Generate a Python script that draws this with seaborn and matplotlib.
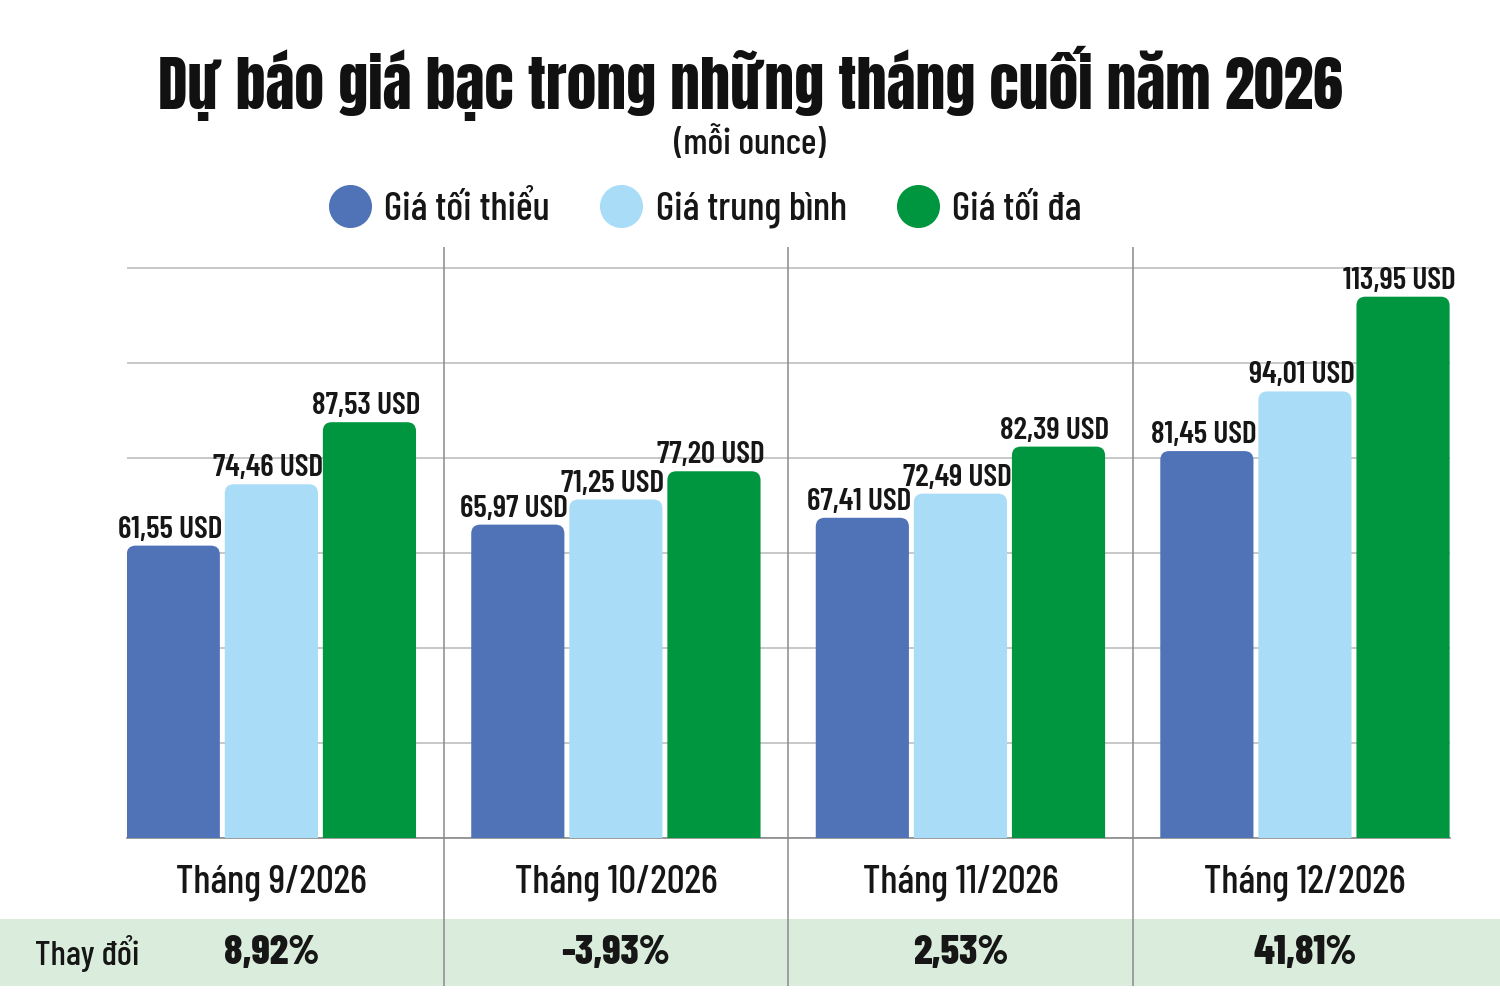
import matplotlib
matplotlib.use("Agg")
import matplotlib.pyplot as plt
import seaborn as sns
import pandas as pd
from matplotlib import font_manager as fm
from matplotlib.patches import FancyBboxPatch, Rectangle
from matplotlib.lines import Line2D
from matplotlib import transforms

# ---- data ----
months = ["Tháng 9/2026", "Tháng 10/2026", "Tháng 11/2026", "Tháng 12/2026"]
series_names = ["Giá tối thiểu", "Giá trung bình", "Giá tối đa"]
price_min = [61.55, 65.97, 67.41, 81.45]
price_avg = [74.46, 71.25, 72.49, 94.01]
price_max = [87.53, 77.20, 82.39, 113.95]
changes = ["8,92%", "-3,93%", "2,53%", "41,81%"]
title = "Dự báo giá bạc trong những tháng cuối năm 2026"
subtitle = "(mỗi ounce)"
change_label = "Thay đổi"
colors = ["#5073B8", "#A8DCF7", "#00953F"]

rows = []
for s, vals in zip(series_names, [price_min, price_avg, price_max]):
    for m, v in zip(months, vals):
        rows.append({"month": m, "series": s, "value": v})
df = pd.DataFrame(rows)

sns.set_theme(style="white")


def has_font(name):
    try:
        fm.findfont(fm.FontProperties(family=name), fallback_to_default=False)
        return True
    except Exception:
        return False


def pick(cands):
    for c in cands:
        if has_font(c):
            return c
    return "DejaVu Sans"


FAM = pick(["Barlow Condensed", "Roboto Condensed", "Liberation Sans Narrow"])
HEAVY = pick(["Anton", "Oswald", "Barlow Condensed"])
plt.rcParams["font.family"] = [FAM, "DejaVu Sans"]
TXT = "#161616"

W, H = 1500, 1005
fig = plt.figure(figsize=(15, 10.05), dpi=100)
ax = fig.add_axes([127 / W, (H - 838) / H, (1450 - 127) / W, (838 - 248) / H])
ax.set_zorder(2)

sns.barplot(data=df, x="month", y="value", hue="series", order=months,
            hue_order=series_names, palette=colors, width=0.854, gap=0.05,
            saturation=1, legend=False, ax=ax, errorbar=None, zorder=3)

ax.set_xlim(-0.419, 3.421)
ax.set_ylim(0, 124.2)

# rounded bar tops replacing the plain rectangles
px_x = (1450 - 127) / (3.421 + 0.419)
px_y = (838 - 248) / 124.2
r_px = 9
bars = list(ax.patches)
for p in bars:
    x, y = p.get_x(), p.get_y()
    w, h = p.get_width(), p.get_height()
    fc = p.get_facecolor()
    p.set_visible(False)
    rr = r_px / px_x
    aspect = (r_px / px_y) / rr
    fb = FancyBboxPatch((x, y - 10), w, h + 10,
                        boxstyle=f"round,pad=0,rounding_size={rr}",
                        mutation_aspect=aspect, facecolor=fc, edgecolor="none",
                        zorder=3)
    ax.add_patch(fb)
    ax.text(x + w / 2 - 0.01, h + 8 / px_y, f"{h:.2f}".replace(".", ",") + " USD",
            ha="center", va="baseline", fontsize=22.5, fontweight="semibold",
            color=TXT, zorder=5)

# grid
ax.set_yticks(range(0, 121, 20))
ax.yaxis.grid(True, color="#c8c8c8", linewidth=1.4, zorder=0)
ax.set_yticklabels([])
ax.tick_params(axis="y", length=0)
for s in ["top", "right", "left"]:
    ax.spines[s].set_visible(False)
ax.spines["bottom"].set_color("#8a8a8a")
ax.spines["bottom"].set_linewidth(1.2)
ax.set_xlabel("")
ax.set_ylabel("")
ax.tick_params(axis="x", length=0, pad=19, labelsize=28.5, labelcolor=TXT)
for t in ax.get_xticklabels():
    t.set_fontweight("medium")

# separators between months
seps = [i + 0.5 for i in range(len(months) - 1)]
ax.vlines(seps, -(986 - 838) / px_y, (838 - 247) / px_y, colors="#8a8a8a",
          linewidth=1.1, clip_on=False, zorder=4)

# change band
band = Rectangle((0, (H - 986) / H), 1, 67 / H, transform=fig.transFigure,
                 facecolor="#DAEDDC", edgecolor="none", zorder=-1)
fig.patches.append(band)
tr = transforms.blended_transform_factory(ax.transData, fig.transFigure)
yb = (H - 953) / H
for i, c in enumerate(changes):
    ax.text(i, yb, c, transform=tr, ha="center", va="center", fontsize=29.5,
            fontweight=800, color=TXT, clip_on=False)
fig.text(35 / W, yb, change_label, ha="left", va="center", fontsize=25.5,
         fontweight="medium", color=TXT)

# title
fig.text(0.5, (H - 83) / H, title, ha="center", va="center", fontsize=43,
         family=[HEAVY, "DejaVu Sans"], color="#111111")
fig.text(0.5, (H - 143) / H, subtitle, ha="center", va="center", fontsize=26.5,
         fontweight="medium", color=TXT)

# legend
handles = [Line2D([0], [0], marker="o", linestyle="none", markersize=31,
                  markerfacecolor=c, markeredgecolor="none") for c in colors]
leg = fig.legend(handles, series_names, loc="center", bbox_to_anchor=(706 / W, (H - 210) / H),
                 ncol=3, frameon=False, fontsize=28.5, handletextpad=0.36,
                 columnspacing=1.3, handlelength=1.0, labelcolor=TXT)
for t in leg.get_texts():
    t.set_fontweight("medium")

fig.savefig("out.png", dpi=100)
